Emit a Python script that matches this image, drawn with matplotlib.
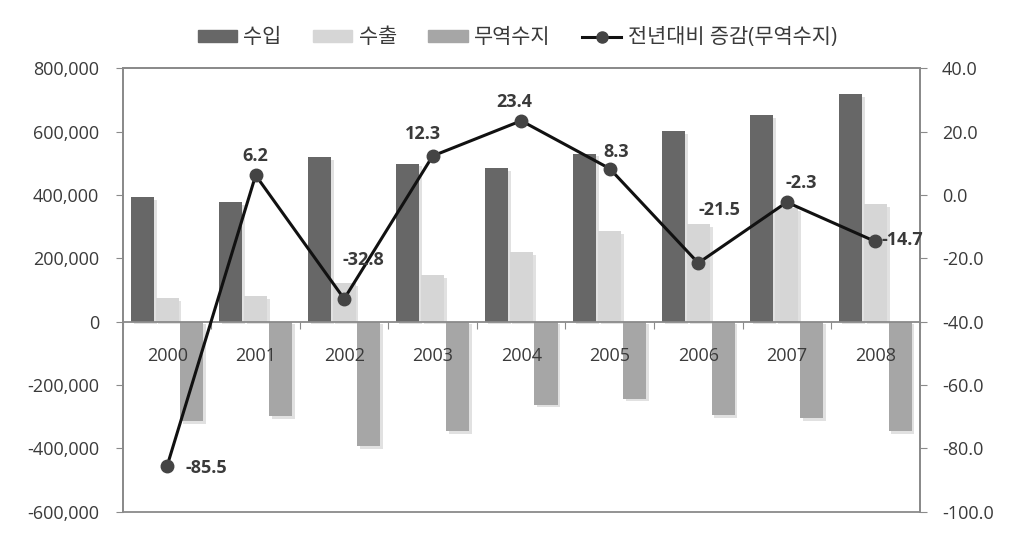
import numpy as np
import matplotlib
matplotlib.use("Agg")
import matplotlib.pyplot as plt
import matplotlib.patheffects as pe
from matplotlib.patches import Patch
from matplotlib.lines import Line2D
from matplotlib.ticker import FuncFormatter

plt.rcParams['font.family'] = ['Open Sans', 'Noto Sans CJK KR', 'DejaVu Sans']

# 데이터
years = ['2000', '2001', '2002', '2003', '2004', '2005', '2006', '2007', '2008']
imports = [393000, 378000, 519000, 499000, 485000, 530000, 601000, 653000, 719000]
exports = [75000, 80000, 122000, 148000, 220000, 285000, 307000, 358000, 372000]
balance = [-314000, -299000, -393000, -346000, -262000, -243000, -296000, -304000, -346000]
change = [-85.5, 6.2, -32.8, 12.3, 23.4, 8.3, -21.5, -2.3, -14.7]

# 레이블 위치 (픽셀 오프셋)
label_off = [(18, -2, 'left'), (0, 19, 'center'), (19, 39, 'center'),
             (-10, 22, 'center'), (-7, 19, 'center'), (6, 17, 'center'),
             (21, 53, 'center'), (14, 19, 'center'), (6, 1, 'left')]

c_imp, c_exp, c_bal = '#676767', '#d6d6d6', '#a6a6a6'
frame = '#8a8a8a'
txt = '#3a3a3a'

fig = plt.figure(figsize=(10.24, 5.41), dpi=100)
ax = fig.add_axes([0.120, 0.054, 0.778, 0.820])
x = np.arange(len(years))
w = 0.26
shadow = [pe.SimplePatchShadow(offset=(2, -2), shadow_rgbFace='#c4c4c4', alpha=0.5), pe.Normal()]
for off, vals, col in [(-0.28, imports, c_imp), (0, exports, c_exp), (0.28, balance, c_bal)]:
    bars = ax.bar(x + off, vals, w, color=col, zorder=1)
    for b in bars:
        b.set_path_effects(shadow)

ax.set_xlim(-0.5, 8.5)
ax.set_ylim(-600000, 800000)
ax.set_yticks(np.arange(-600000, 800001, 200000))
ax.yaxis.set_major_formatter(FuncFormatter(lambda v, p: f'{int(v):,}'))
ax.spines['bottom'].set_position(('data', 0))
ax.set_xticks(np.arange(-0.5, 9.0, 1))
ax.set_xticklabels([])
ax.set_xticks(x, labels=years, minor=True)
ax.tick_params(axis='x', which='major', direction='out', length=5, color=frame)
ax.tick_params(axis='x', which='minor', length=0, pad=18, labelsize=13, labelcolor=txt)
ax.tick_params(axis='y', direction='out', length=5, color=frame, labelsize=13,
               labelcolor=txt, pad=12)
for s in ax.spines.values():
    s.set_color(frame)
    s.set_linewidth(1.3)

ax2 = ax.twinx()
ax2.plot(x, change, color='#111111', lw=2.2, marker='o', markersize=9,
         markerfacecolor='#444444', markeredgecolor='#444444', zorder=3)
ax2.set_ylim(-100, 40)
ax2.set_yticks(np.arange(-100, 41, 20))
ax2.yaxis.set_major_formatter(FuncFormatter(lambda v, p: f'{v:.1f}'))
ax2.tick_params(axis='y', direction='out', length=5, color=frame, labelsize=13,
                labelcolor=txt, pad=11)
for s in ax2.spines.values():
    s.set_color(frame)
    s.set_linewidth(1.3)

for xi, v, (dx, dy, ha) in zip(x, change, label_off):
    ax2.annotate(f'{v}', (xi, v), xytext=(dx, dy), textcoords='offset pixels',
                 ha=ha, va='center', fontsize=13, fontweight='bold', color=txt)

handles = [Patch(color=c_imp), Patch(color=c_exp), Patch(color=c_bal),
           Line2D([], [], color='#111111', lw=2.2, marker='o', markersize=8,
                  markerfacecolor='#444444', markeredgecolor='#444444')]
labels = ['수입', '수출', '무역수지', '전년대비 증감(무역수지)']
fig.legend(handles, labels, loc='center', bbox_to_anchor=(0.505, 0.93), ncol=4,
           frameon=False, fontsize=15, handlelength=1.9, handleheight=0.45,
           columnspacing=1.5, handletextpad=0.3, labelcolor=txt)

fig.savefig('out.png', dpi=100)
